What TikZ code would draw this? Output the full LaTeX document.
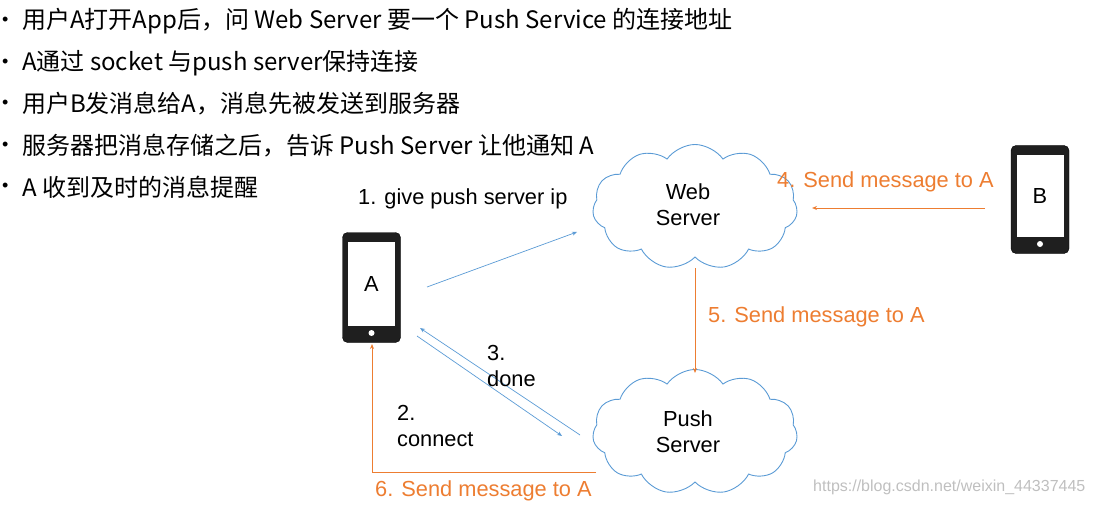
\documentclass[tikz,border=0pt]{standalone}
\usepackage{fontspec}
\setmainfont{Liberation Sans}
\newfontfamily\cjk{Noto Sans CJK SC}
\usetikzlibrary{shapes.symbols,arrows.meta}
\definecolor{cblue}{RGB}{91,155,213}
\definecolor{corange}{RGB}{237,125,49}
\begin{document}
\begin{tikzpicture}[x=1pt,y=-1pt,
  txt/.style={font=\fontsize{24}{28}\selectfont\cjk,anchor=west,inner sep=0},
  bul/.style={font=\fontsize{18}{20}\selectfont,anchor=west,inner sep=0},
  lab/.style={font=\fontsize{21.8}{26}\selectfont,inner sep=0},
  cl/.style={cloud,cloud puffs=11,cloud puff arc=110,aspect=1.7,draw=cblue,line width=0.9pt,minimum width=205pt,minimum height=125pt,align=center,font=\fontsize{21.8}{26}\selectfont},
  barrow/.style={draw=cblue,line width=0.7pt,-{Stealth[length=5pt,width=4pt]}},
  oarrow/.style={draw=corange,line width=0.9pt,-{Stealth[length=5pt,width=4pt]}}]
\useasboundingbox (0,0) rectangle (1094,505);
\foreach \i/\y/\t in {1/21/用户A打开App后，问 Web Server 要一个 Push Service 的连接地址,
  2/63/A通过 socket 与push server保持连接,
  3/104/用户B发消息给A，消息先被发送到服务器,
  4/146/服务器把消息存储之后，告诉 Push Server 让他通知 A,
  5/187/A 收到及时的消息提醒}{
  \node[bul] (b\i) at (2,\y) {•};
  \node[txt] (t\i) at (22,\y) {\t};
}
\node[cl] (web) at (695,207) {};
\node[lab,align=center] (webt) at (688,205) {Web\\Server};
\node[cl] (push) at (695,432) {};
\node[lab,align=center] (pusht) at (688,432) {Push\\Server};
% phone A
\node[draw=black,fill=black!88,rounded corners=5pt,minimum width=58pt,minimum height=110pt,inner sep=0] (A) at (371.5,287.5) {};
\node[fill=white,minimum width=47pt,minimum height=84pt,inner sep=0,font=\fontsize{21.8}{26}\selectfont] (Ascr) at (371.5,284) {A};
\node[circle,fill=white,minimum size=6pt,inner sep=0] (Adot) at (371.5,333) {};
% phone B
\node[draw=black,fill=black!88,rounded corners=5pt,minimum width=58pt,minimum height=108pt,inner sep=0] (B) at (1040,199.5) {};
\node[fill=white,minimum width=47pt,minimum height=82pt,inner sep=0,font=\fontsize{21.8}{26}\selectfont] (Bscr) at (1040,196) {B};
\node[circle,fill=white,minimum size=6pt,inner sep=0] (Bdot) at (1040,244) {};
% coordinates
\coordinate (p1s) at (427,287); \coordinate (p1e) at (577,232);
\coordinate (p2s) at (417,336); \coordinate (p2e) at (562,436);
\coordinate (p3s) at (580,435); \coordinate (p3e) at (420,328);
\coordinate (p4s) at (985,208); \coordinate (p4e) at (812,208);
\coordinate (p5s) at (695,268); \coordinate (p5e) at (695,373);
\coordinate (p6s) at (596,472); \coordinate (p6c) at (372,472); \coordinate (p6e) at (372,344);
\draw[barrow] (p1s) -- (p1e);
\draw[barrow] (p2s) -- (p2e);
\draw[barrow] (p3s) -- (p3e);
\draw[oarrow] (p4s) -- (p4e);
\draw[oarrow] (p5s) -- (p5e);
\draw[oarrow] (p6s) -- (p6c) -- (p6e);
\node[lab,anchor=west] (l1) at (358,199) {1. give push server ip};
\node[lab,anchor=west,align=left] (l2) at (397,426) {2.\\connect};
\node[lab,anchor=west,align=left] (l3) at (487,366) {3.\\done};
\node[lab,anchor=west,text=corange] (l4) at (777,182) {4. Send message to A};
\node[lab,anchor=west,text=corange] (l5) at (708,317) {5. Send message to A};
\node[lab,anchor=west,text=corange] (l6) at (375,491) {6. Send message to A};
\node[anchor=west,inner sep=0,text=black!25,font=\fontsize{16}{18}\selectfont] (wm) at (813,487) {https://blog.csdn.net/weixin\_44337445};
\end{tikzpicture}
\end{document}
